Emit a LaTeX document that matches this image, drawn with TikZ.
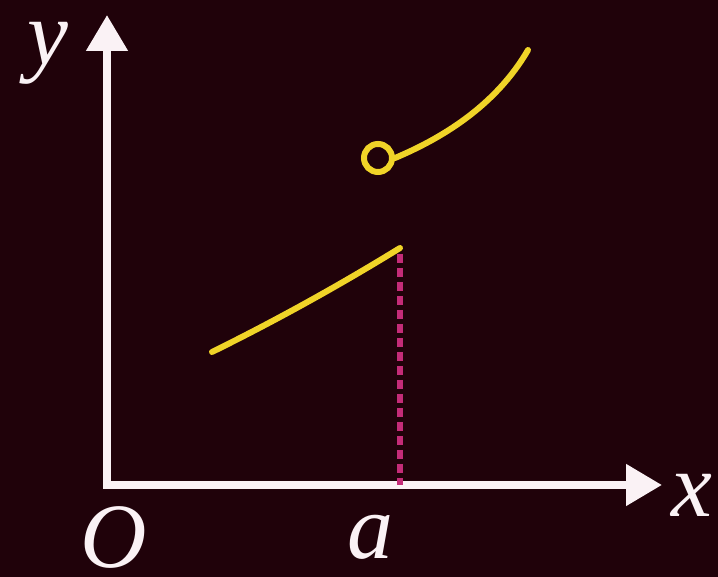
\documentclass[tikz,border=0pt]{standalone}
\usepackage{fontspec}
\setmainfont{Liberation Serif}
\usetikzlibrary{arrows.meta}
\definecolor{bgc}{RGB}{32,2,10}
\definecolor{curvec}{RGB}{240,212,40}
\definecolor{dashc}{RGB}{196,44,120}
\definecolor{axc}{RGB}{250,242,245}
\tikzset{
  axis/.style={draw=axc, line width=8pt, -{Triangle[width=40pt,length=36pt]}},
  graphline/.style={draw=curvec, line width=6pt, line cap=round},
  dropline/.style={draw=dashc, line width=6pt, dash pattern=on 9pt off 5pt},
  lbl/.style={text=axc, font=\fontsize{92}{92}\selectfont\itshape, inner sep=0pt},
  hole/.style={circle, draw=curvec, line width=6pt, minimum size=28pt, inner sep=0pt}
}
\begin{document}
\begin{tikzpicture}[x=1pt,y=1pt]
\fill[bgc] (0,0) rectangle (718,577);
\useasboundingbox (0,0) rectangle (718,577);
\coordinate (O) at (107,92);
\coordinate (xend) at (662,92);
\coordinate (yend) at (107,562);
\draw[axis] ([xshift=-4pt]O) -- (xend);
\draw[axis] ([yshift=-4pt]O) -- (yend);
\node[lbl] (ylab) at (48,524) {y};
\node[lbl] (xlab) at (692,82) {x};
\node[lbl] (olab) at (114,40) {O};
\node[lbl] (alab) at (370,40) {a};
\coordinate (L0) at (212,225);
\coordinate (P) at (400,329);
\coordinate (A) at (400,92);
\draw[dropline] ([yshift=-6pt]P) -- (A);
\draw[graphline] (L0) .. controls (275,256) and (340,292) .. (P);
\node[hole] (H) at (378,419) {};
\coordinate (U1) at (528,527);
\draw[graphline] (H.east) .. controls (440,438) and (495,470) .. (U1);
\end{tikzpicture}
\end{document}
